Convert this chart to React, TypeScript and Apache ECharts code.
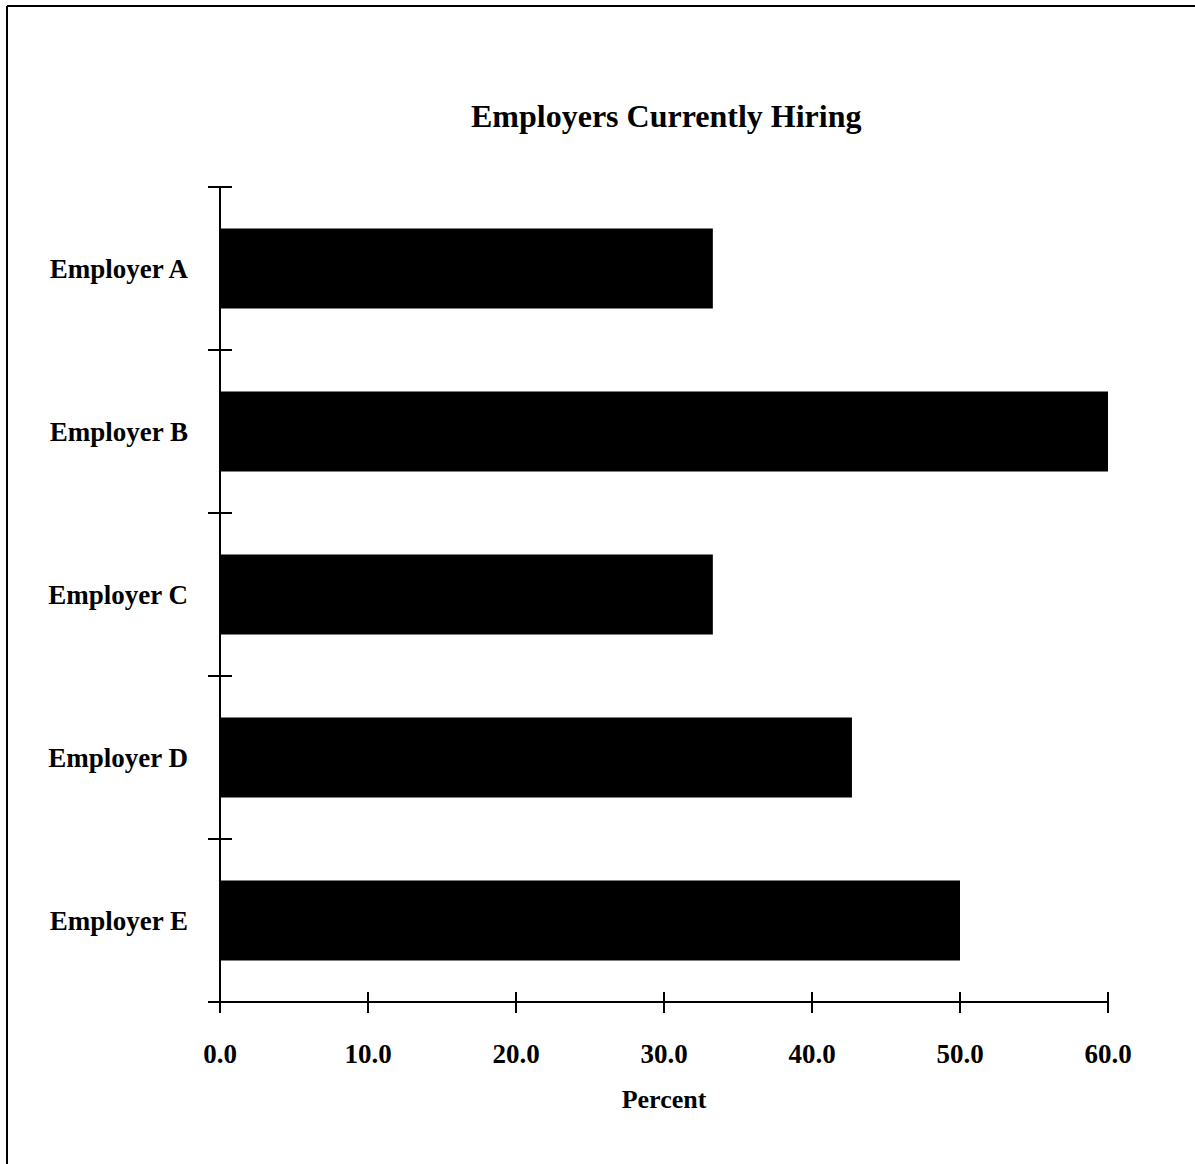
import React, { useEffect, useRef } from "react";
import * as echarts from "echarts";

const categories = ["Employer A", "Employer B", "Employer C", "Employer D", "Employer E"];
const percentValues = [33.3, 60.0, 33.3, 42.7, 50.0];
const xMin = 0;
const xMax = 60;
const xInterval = 10;

const FONT = '"Liberation Serif", "Times New Roman", serif';

export default function App() {
  const ref = useRef<HTMLDivElement>(null);

  useEffect(() => {
    if (!ref.current) return;
    const chart = echarts.init(ref.current, null, { renderer: "svg" });

    const valueAxisBase = {
      type: "value" as const,
      min: xMin,
      max: xMax,
      interval: xInterval,
      position: "bottom" as const,
      splitLine: { show: false },
      axisLine: { show: true, lineStyle: { color: "#000", width: 2 } },
    };
    const catAxisBase = {
      type: "category" as const,
      data: categories,
      inverse: true,
      position: "left" as const,
      axisLine: { show: true, lineStyle: { color: "#000", width: 2 } },
      splitLine: { show: false },
    };

    chart.setOption({
      animation: false,
      backgroundColor: "#fff",
      title: {
        text: "Employers Currently Hiring",
        left: 466,
        top: 95,
        textStyle: { fontFamily: FONT, fontWeight: "bold", fontSize: 32, color: "#000" },
      },
      grid: { left: 220, right: 87, top: 187, bottom: 162, containLabel: false },
      xAxis: [
        {
          ...valueAxisBase,
          axisTick: { show: true, length: 11, lineStyle: { color: "#000", width: 2 } },
          axisLabel: {
            margin: 38,
            fontFamily: FONT,
            fontWeight: "bold",
            fontSize: 27,
            color: "#000",
            formatter: (v: number) => v.toFixed(1),
          },
          name: "Percent",
          nameLocation: "middle",
          nameGap: 84,
          nameTextStyle: { fontFamily: FONT, fontWeight: "bold", fontSize: 26, color: "#000" },
        },
        {
          ...valueAxisBase,
          axisTick: { show: true, inside: true, length: 10, lineStyle: { color: "#000", width: 2 } },
          axisLabel: { show: false },
        },
      ],
      yAxis: [
        {
          ...catAxisBase,
          axisTick: { show: true, length: 12, lineStyle: { color: "#000", width: 2 } },
          axisLabel: {
            margin: 32,
            fontFamily: FONT,
            fontWeight: "bold",
            fontSize: 27,
            color: "#000",
          },
        },
        {
          ...catAxisBase,
          axisTick: { show: true, inside: true, length: 12, lineStyle: { color: "#000", width: 2 } },
          axisLabel: { show: false },
        },
      ],
      series: [
        {
          type: "bar",
          xAxisIndex: 0,
          yAxisIndex: 0,
          data: percentValues,
          barWidth: 80,
          itemStyle: { color: "#000" },
        },
      ],
      graphic: [
        {
          type: "line",
          shape: { x1: 7, y1: 6, x2: 1195, y2: 6 },
          style: { stroke: "#000", lineWidth: 2 },
        },
        {
          type: "line",
          shape: { x1: 7, y1: 6, x2: 7, y2: 1164 },
          style: { stroke: "#000", lineWidth: 2 },
        },
      ],
    });

    return () => chart.dispose();
  }, []);

  return (
    <div
      ref={ref}
      style={{ position: "fixed", left: 0, top: 0, width: 1195, height: 1164 }}
    />
  );
}
